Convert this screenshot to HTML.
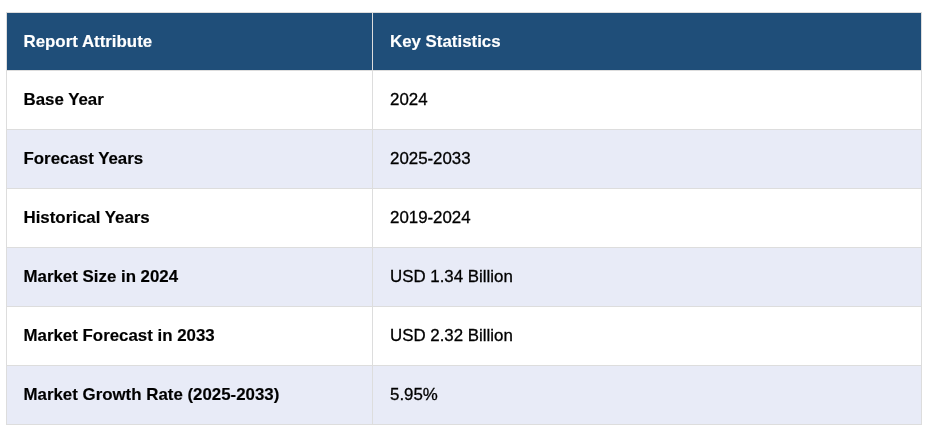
<!DOCTYPE html>
<html><head><meta charset="utf-8">
<style>
html,body{margin:0;padding:0;background:#fff;}
body{width:932px;height:432px;overflow:hidden;font-family:"Liberation Sans",Arial,sans-serif;}
table{position:absolute;left:6px;top:12px;width:916px;border-collapse:collapse;table-layout:fixed;}
td,th{border:1px solid #dddddd;padding:0 0 0 17px;text-align:left;vertical-align:middle;font-size:16.87px;color:#000;height:59px;box-sizing:border-box;}
th{background:#1f4e79;color:#fff;font-weight:bold;height:58px;-webkit-text-stroke:0.15px #fff;}
td.a,th:first-child{padding-left:16.5px;}td{-webkit-text-stroke:0.3px #000;}td.a{font-weight:bold;-webkit-text-stroke:0.15px #000;}
tr.s td{background:#e8ebf7;}
col.c1{width:366px;}
</style></head><body>
<table>
<colgroup><col class="c1"><col></colgroup>
<tr><th>Report Attribute</th><th>Key Statistics</th></tr>
<tr><td class="a">Base Year</td><td>2024</td></tr>
<tr class="s"><td class="a">Forecast Years</td><td>2025-2033</td></tr>
<tr><td class="a">Historical Years</td><td>2019-2024</td></tr>
<tr class="s"><td class="a">Market Size in 2024</td><td>USD 1.34 Billion</td></tr>
<tr><td class="a">Market Forecast in 2033</td><td>USD 2.32 Billion</td></tr>
<tr class="s"><td class="a">Market Growth Rate (2025-2033)</td><td>5.95%</td></tr>
</table>
</body></html>
